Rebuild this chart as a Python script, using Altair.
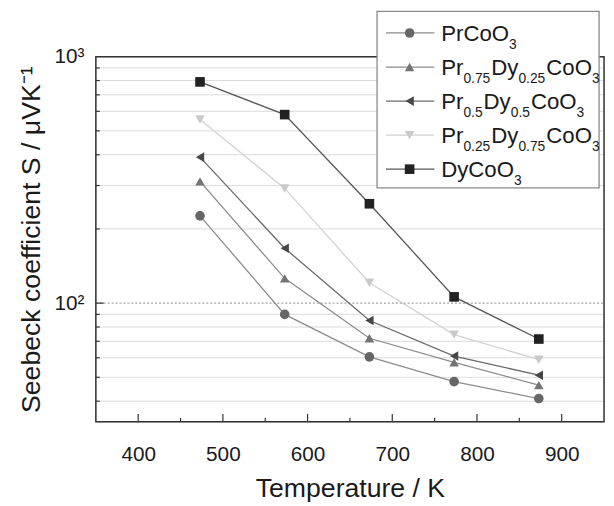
import altair as alt
import pandas as pd

# ---- data ----
temps = [473, 573, 673, 773, 873]
series = ["PrCoO3", "Pr0.75Dy0.25CoO3", "Pr0.5Dy0.5CoO3", "Pr0.25Dy0.75CoO3", "DyCoO3"]
s_pr = [226, 90, 60.5, 48, 41]
s_pr75 = [312, 126, 72, 57.5, 46.5]
s_pr50 = [391, 167, 85, 61, 51]
s_pr25 = [556, 292, 121, 74.5, 59]
s_dy = [790, 582, 253, 106, 71.5]

legend_parts = [
    [("PrCoO", 0), ("3", 1)],
    [("Pr", 0), ("0.75", 1), ("Dy", 0), ("0.25", 1), ("CoO", 0), ("3", 1)],
    [("Pr", 0), ("0.5", 1), ("Dy", 0), ("0.5", 1), ("CoO", 0), ("3", 1)],
    [("Pr", 0), ("0.25", 1), ("Dy", 0), ("0.75", 1), ("CoO", 0), ("3", 1)],
    [("DyCoO", 0), ("3", 1)],
]

x_major = [400, 500, 600, 700, 800, 900]
x_minor = [450, 550, 650, 750, 850]
y_grid = [40, 50, 60, 70, 80, 90, 200, 300, 400, 500, 600, 700, 800, 900]
y_dotted = [100]
y_labels = [100, 1000]

shapes = ["circle", "triangle-up", "triangle-left", "triangle-down", "square"]
marker_colors = ["#666666", "#747474", "#474747", "#c9c9c9", "#222222"]
line_colors = ["#8c8c8c", "#8c8c8c", "#6a6a6a", "#d2d2d2", "#555555"]

FONT = "Liberation Sans"
W, H = 515, 370

rows = []
for name, vals in zip(series, [s_pr, s_pr75, s_pr50, s_pr25, s_dy]):
    for t, v in zip(temps, vals):
        rows.append({"T": t, "S": v, "series": name})
df = pd.DataFrame(rows)

xs = alt.Scale(domain=[350, 950], nice=False, zero=False)
ys = alt.Scale(type="log", domain=[33, 1000], nice=False)
shape_s = alt.Scale(domain=series, range=shapes)
fill_s = alt.Scale(domain=series, range=marker_colors)
stroke_s = alt.Scale(domain=series, range=line_colors)

xaxis = alt.Axis(values=x_major, title="Temperature / K", ticks=False, domain=False, grid=False,
                 labelFont=FONT, labelFontSize=21, labelColor="#1a1a1a", labelPadding=22,
                 labelFlush=False, titleFont=FONT, titleFontSize=27, titleFontWeight="normal",
                 titleColor="#1a1a1a", titlePadding=12)
yaxis = alt.Axis(values=y_labels, title="Seebeck coefficient S / \u03bcVK\u207b\u00b9",
                 labelExpr="datum.value == 1000 ? '10\u00b3' : '10\u00b2'",
                 ticks=False, domain=False, grid=False,
                 labelFont=FONT, labelFontSize=21, labelColor="#1a1a1a", labelPadding=12,
                 titleFont=FONT, titleFontSize=27, titleFontWeight="normal",
                 titleColor="#1a1a1a", titlePadding=9)

grid = alt.Chart(pd.DataFrame({"v": y_grid})).mark_rule(color="#dadada", strokeWidth=1).encode(
    y=alt.Y("v:Q", scale=ys), x=alt.value(0), x2=alt.value(W))
grid100 = alt.Chart(pd.DataFrame({"v": y_dotted})).mark_rule(color="#888888", strokeWidth=1, strokeDash=[2, 2]).encode(
    y=alt.Y("v:Q", scale=ys), x=alt.value(0), x2=alt.value(W))

lines = alt.Chart(df).mark_line(strokeWidth=1.3).encode(
    x=alt.X("T:Q", scale=xs, axis=xaxis),
    y=alt.Y("S:Q", scale=ys, axis=yaxis),
    stroke=alt.Stroke("series:N", scale=stroke_s, legend=None),
    detail="series:N",
)
points = alt.Chart(df).mark_point(filled=True, size=95, opacity=1).encode(
    x=alt.X("T:Q", scale=xs),
    y=alt.Y("S:Q", scale=ys),
    shape=alt.Shape("series:N", scale=shape_s, legend=None),
    fill=alt.Fill("series:N", scale=fill_s, legend=None),
)

frame = alt.Chart(pd.DataFrame({"a": [0]})).mark_rect(filled=False, stroke="#333333", strokeWidth=1.5).encode(
    x=alt.value(0), x2=alt.value(W), y=alt.value(0), y2=alt.value(H))

xt_major = alt.Chart(pd.DataFrame({"t": x_major})).mark_rule(color="#333333", strokeWidth=1.2).encode(
    x=alt.X("t:Q", scale=xs), y=alt.value(H), y2=alt.value(H - 8))
xt_minor = alt.Chart(pd.DataFrame({"t": x_minor})).mark_rule(color="#333333", strokeWidth=1.2).encode(
    x=alt.X("t:Q", scale=xs), y=alt.value(H), y2=alt.value(H - 4))
yt_minor = alt.Chart(pd.DataFrame({"v": y_grid})).mark_rule(color="#333333", strokeWidth=1.2).encode(
    y=alt.Y("v:Q", scale=ys), x=alt.value(0), x2=alt.value(4))
yt_major = alt.Chart(pd.DataFrame({"v": y_dotted})).mark_rule(color="#333333", strokeWidth=1.2).encode(
    y=alt.Y("v:Q", scale=ys), x=alt.value(0), x2=alt.value(8))

# ---- manual legend (to allow subscripts) ----
LX0, LX1, LY0, LY1 = 285, 510, -46, 133
legend_box = alt.Chart(pd.DataFrame({"a": [0]})).mark_rect(fill="white", stroke="#8a8a8a", strokeWidth=1.3).encode(
    x=alt.value(LX0), x2=alt.value(LX1), y=alt.value(LY0), y2=alt.value(LY1))

adv = {"P": 0.667, "r": 0.333, "C": 0.722, "o": 0.556, "O": 0.778, "D": 0.722, "y": 0.5, ".": 0.278}
MAIN, SUB = 22.5, 14

def width(s, size):
    return sum(adv.get(c, 0.556) for c in s) * size

leg_rows, txt_rows = [], []
for i, (name, parts) in enumerate(zip(series, legend_parts)):
    yc = -24 + i * 34.5
    leg_rows.append({"series": name, "x1": 294, "x2": 343, "xm": 318, "y": yc})
    x = 350
    for txt, sub in parts:
        size = SUB if sub else MAIN
        txt_rows.append({"txt": txt, "x": x, "y": yc + 8 + (8 if sub else 0), "fs": size})
        x += width(txt, size) + (1 if sub else 0)
leg_df = pd.DataFrame(leg_rows)
txt_df = pd.DataFrame(txt_rows)

leg_lines = alt.Chart(leg_df).mark_rule(strokeWidth=1.3).encode(
    x=alt.X("x1:Q", scale=None, axis=None), x2="x2:Q",
    y=alt.Y("y:Q", scale=None, axis=None),
    stroke=alt.Stroke("series:N", scale=stroke_s, legend=None))
leg_pts = alt.Chart(leg_df).mark_point(filled=True, size=95, opacity=1).encode(
    x=alt.X("xm:Q", scale=None, axis=None),
    y=alt.Y("y:Q", scale=None, axis=None),
    shape=alt.Shape("series:N", scale=shape_s, legend=None),
    fill=alt.Fill("series:N", scale=fill_s, legend=None))
leg_txt = alt.Chart(txt_df).mark_text(font=FONT, align="left", baseline="alphabetic", color="#1a1a1a").encode(
    x=alt.X("x:Q", scale=None, axis=None),
    y=alt.Y("y:Q", scale=None, axis=None),
    size=alt.Size("fs:Q", scale=None, legend=None),
    text="txt:N")

chart = alt.layer(
    grid, grid100, lines, points, frame, xt_major, xt_minor, yt_minor, yt_major,
    legend_box, leg_lines, leg_pts, leg_txt,
).properties(
    width=W, height=H,
    autosize=alt.AutoSizeParams(type="none"),
    padding={"left": 89, "top": 46, "right": 2, "bottom": 80},
).configure_view(stroke=None).configure(background="white")

chart.save("out.html", embed_options={"renderer": "svg", "actions": False})
